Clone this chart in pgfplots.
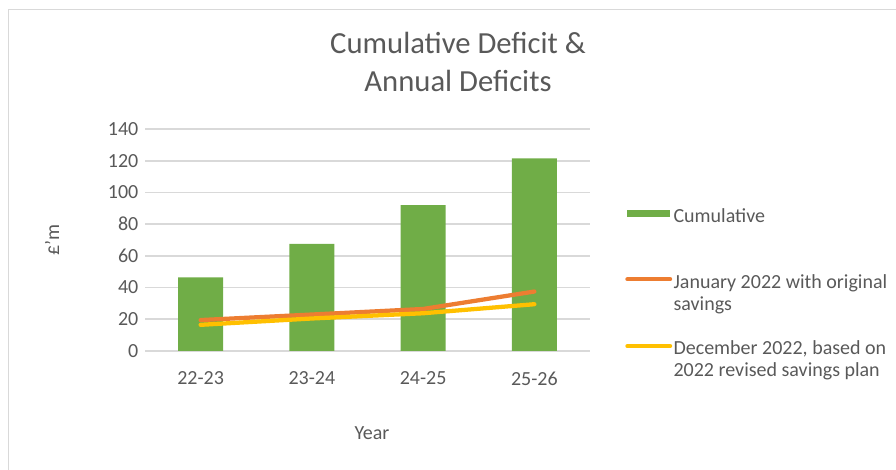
\documentclass[border=0pt]{standalone}
\usepackage{pgfplots}
\pgfplotsset{compat=1.18}
\usepackage{fontspec}
\setmainfont{Carlito}
\definecolor{cgreen}{HTML}{70AD47}
\definecolor{corange}{HTML}{ED7D31}
\definecolor{cyellow}{HTML}{FFC000}
\definecolor{gridgray}{HTML}{D9D9D9}
\definecolor{textgray}{HTML}{595959}
\definecolor{framegray}{HTML}{D9D9D9}
\begin{document}
\begin{tikzpicture}
\useasboundingbox (0pt,0pt) rectangle (672pt,352.5pt);
\draw[framegray, line width=0.75pt] (6pt,0pt) -- (6pt,345pt) -- (672pt,345pt);
\node[textgray, font=\fontsize{23}{28.5}\selectfont, align=center] at (343.5pt,306pt) {Cumulative Deficit \&\\Annual Deficits};
\begin{axis}[
  at={(108.75pt,89.25pt)}, anchor=south west,
  scale only axis, width=333.75pt, height=166.5pt,
  xmin=-0.5, xmax=3.5, ymin=0, ymax=140,
  ytick={0,20,...,140},
  xtick={0,1,2,3},
  xticklabels={22-23,23-24,24-25,25-26},
  ymajorgrids,
  grid style={gridgray, line width=1.3pt},
  axis line style={draw=none},
  tick style={draw=none},
  /pgf/number format/assume math mode=true,
  tick label style={textgray, font=\fontsize{15}{18}\selectfont},
  yticklabel style={xshift=-1.5pt},
  xticklabel style={yshift=-12pt},
  xlabel={Year}, ylabel={£'m},
  every axis x label/.style={at={(axis description cs:0.51,-0.369)}, anchor=center, textgray, font=\fontsize{15}{18}\selectfont},
  every axis y label/.style={at={(axis description cs:-0.209,0.5)}, anchor=center, rotate=90, textgray, font=\fontsize{15}{18}\selectfont},
  legend style={draw=none, fill=none, at={(axis description cs:1.0787,0.657)}, anchor=north west,
    inner sep=0pt, column sep=-1pt, row sep=17.5pt,
    cells={anchor=north west, align=left, inner sep=0pt, text=textgray, font=\fontsize{15}{16.5}\selectfont}},
]
\addplot[ybar, bar width=33.75pt, fill=cgreen, draw=none,
  legend image code/.code={\fill[cgreen] (0pt,-9pt) rectangle (32pt,-3.8pt);}]
  coordinates {(0,46.5) (1,67.5) (2,92) (3,121.5)};
\addlegendentry{Cumulative\\[-0.75pt]\strut}
\addplot[corange, line width=3.2pt, line cap=round, line join=round,
  legend image code/.code={\draw[corange, line width=3.2pt, line cap=round] (0pt,-6pt) -- (32pt,-6pt);}]
  coordinates {(0,19.5) (1,23) (2,26.5) (3,37.5)};
\addlegendentry{January 2022 with original\\savings}
\addplot[cyellow, line width=3.2pt, line cap=round, line join=round,
  legend image code/.code={\draw[cyellow, line width=3.2pt, line cap=round] (0pt,-6pt) -- (32pt,-6pt);}]
  coordinates {(0,16.5) (1,20.5) (2,23.8) (3,29.5)};
\addlegendentry{December 2022, based on\\2022 revised savings plan}
\end{axis}
\end{tikzpicture}
\end{document}
